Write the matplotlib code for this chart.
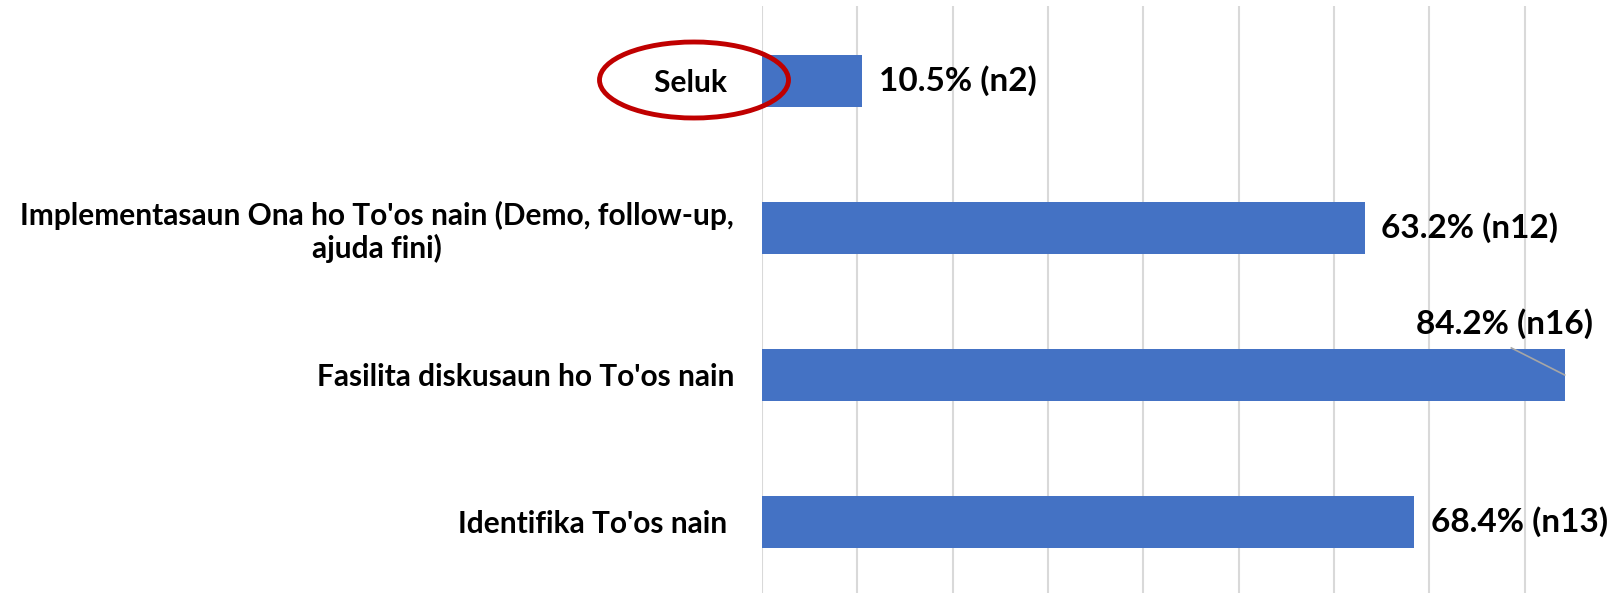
import matplotlib
matplotlib.use("Agg")
import matplotlib.pyplot as plt
from matplotlib.patches import Ellipse

categories = ["Identifika To'os nain ", "Fasilita diskusaun ho To'os nain",
              "Implementasaun Ona ho To'os nain (Demo, follow-up,\najuda fini)", "Seluk "]
values = [0.684, 0.842, 0.632, 0.105]
labels = ["68.4% (n13)", "84.2% (n16)", "63.2% (n12)", "10.5% (n2)"]

W, H = 1620, 593
fig = plt.figure(figsize=(W / 100, H / 100), dpi=100)
ax_left, ax_top, ax_right, ax_bottom = 762, 6, 1620, 593
ax = fig.add_axes([ax_left / W, 1 - ax_bottom / H, (ax_right - ax_left) / W, (ax_bottom - ax_top) / H])

font = "Lato"
ypos = list(range(len(categories)))
ax.barh(ypos, values, height=0.35, color="#4472C4", zorder=3)
ax.set_xlim(0, 0.9)
ax.set_ylim(-0.483, 3.51)
ax.set_xticks([i / 10 for i in range(9)])
ax.set_xticklabels([])
ax.tick_params(axis="x", length=0)
ax.tick_params(axis="y", length=0, pad=20)
ax.grid(axis="x", color="#D9D9D9", linewidth=1.5, zorder=0)
for s in ax.spines.values():
    s.set_visible(False)
ax.set_yticks(ypos)
ax.set_yticklabels(categories, fontsize=21.5, fontweight="bold", fontfamily=font,
                   multialignment="center", linespacing=1.15)

for i, (v, lab) in enumerate(zip(values, labels)):
    if i == 1:
        ax.annotate(lab, xy=(v, i), xytext=(0.779, i + 0.35), textcoords="data",
                    ha="center", va="center", fontsize=24, fontweight="bold",
                    fontfamily=font, annotation_clip=False)
        ax.plot([0.786, v], [i + 0.184, i], color="#A6A6A6", lw=1.2, zorder=4)
    else:
        ax.annotate(lab, xy=(v, i), xytext=(12, 0), textcoords="offset points",
                    ha="left", va="center", fontsize=24, fontweight="bold",
                    fontfamily=font, annotation_clip=False)

ell = Ellipse((694 / W, 1 - 80 / H), 189 / W, 76 / H, transform=fig.transFigure,
              fill=False, edgecolor="#C00000", linewidth=3.5, zorder=10)
fig.patches.append(ell)

fig.savefig("out.png", dpi=100)
